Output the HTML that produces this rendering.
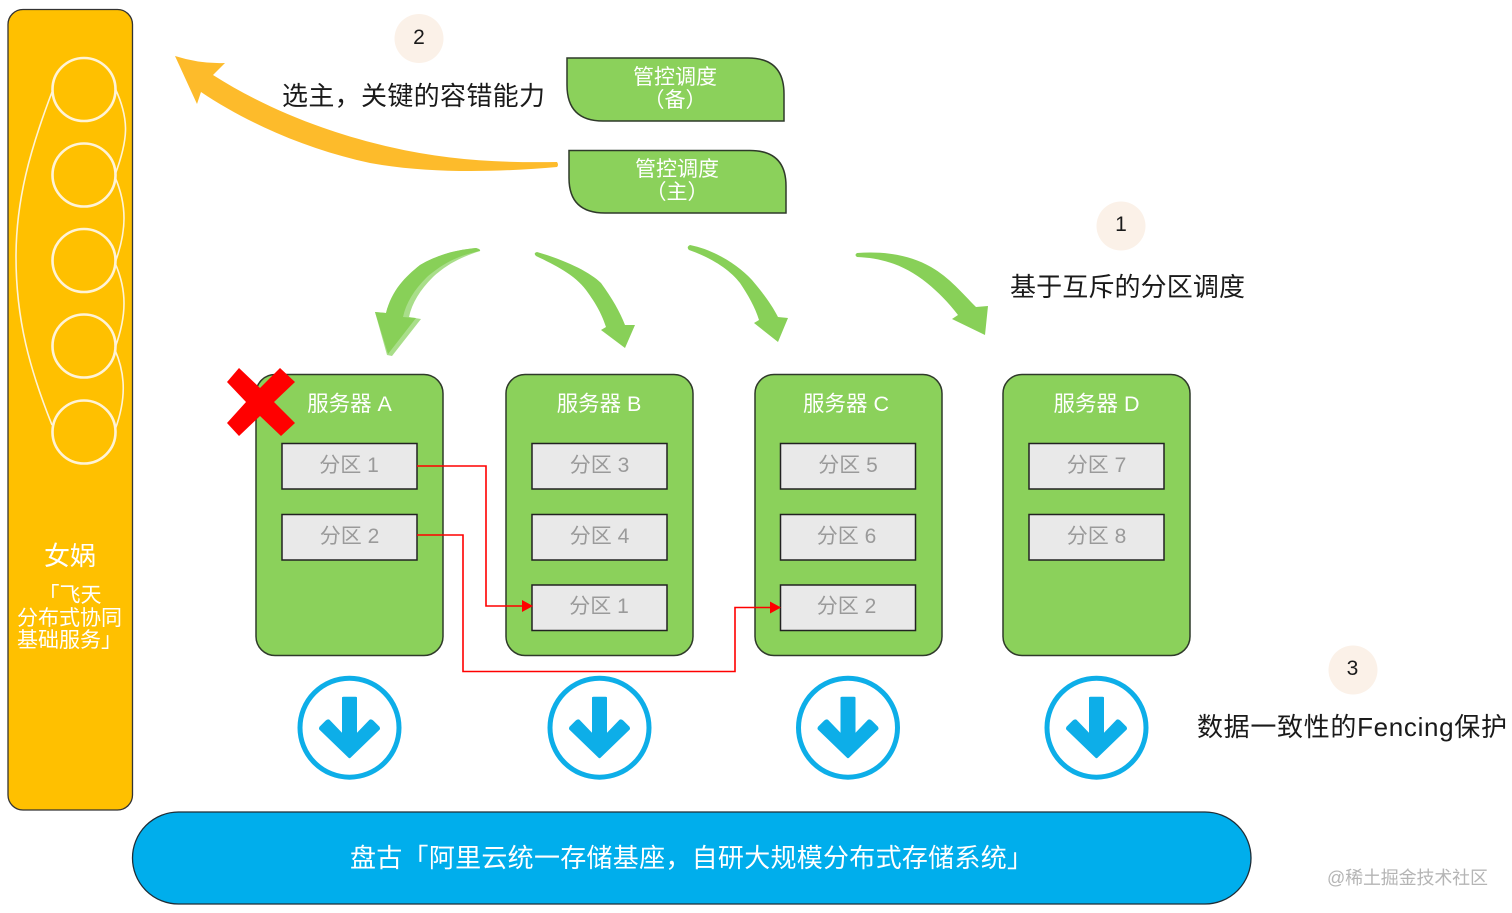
<!DOCTYPE html>
<html><head><meta charset="utf-8">
<style>
html,body{margin:0;padding:0;background:#fff;width:1512px;height:913px;overflow:hidden}
svg{display:block}
text{font-family:"Liberation Sans","Noto Sans CJK SC",sans-serif}
.w{fill:#fff}.k{fill:#1a1a1a}.g{fill:#9a9a9a;font-size:21px;text-anchor:middle}
.sv{fill:#8BD15B;stroke:#2f3a2a;stroke-width:1.5}
.pt{fill:#E9E9E9;stroke:#222;stroke-width:1.5}
.srv{fill:#fff;font-size:21.5px;text-anchor:middle}
.ct{fill:#fff;font-size:21px;text-anchor:middle}
.cir{fill:none;stroke:#FFF3D6;stroke-width:2.6}
.ln{fill:none;stroke:#FFF3D6;stroke-width:1.6}
.red{fill:none;stroke:#F00;stroke-width:1.6}
.ga{fill:#88D058}
.num{fill:#1a1a1a;font-size:21px;text-anchor:middle}
</style></head><body>
<svg width="1512" height="913" viewBox="0 0 1512 913" xmlns="http://www.w3.org/2000/svg">
<rect width="1512" height="913" fill="#fff"/>

<!-- left panel -->
<rect x="8" y="9.500" width="124.500" height="800.500" rx="15" fill="#FFC000" stroke="#333" stroke-width="1.300"/>
<circle class="cir" cx="84" cy="89.500" r="31.500"/>
<circle class="cir" cx="84" cy="175" r="31.500"/>
<circle class="cir" cx="84" cy="260.500" r="31.500"/>
<circle class="cir" cx="84" cy="346" r="31.500"/>
<circle class="cir" cx="84" cy="432" r="31.500"/>
<path class="ln" d="M52 92C30 150 16 200 16 257C16 320 30 370 52 425"/>
<path class="ln" d="M115 88C130 120 128 140 115 175"/>
<path class="ln" d="M115 177C127 205 127 230 115 263"/>
<path class="ln" d="M115 263C127 290 127 315 115 348"/>
<path class="ln" d="M115 350C126 375 126 400 115 430"/>
<text class="w" x="70" y="565" font-size="26" text-anchor="middle">女娲</text>
<text class="w" x="70" y="602" font-size="21" text-anchor="middle">「飞天</text>
<text class="w" x="69.500" y="625" font-size="21" text-anchor="middle" textLength="105" lengthAdjust="spacingAndGlyphs">分布式协同</text>
<text class="w" x="69.500" y="647" font-size="21" text-anchor="middle">基础服务」</text>

<!-- yellow arrow -->
<path fill="#FDBB2B" d="M557 162C500 163 445 160 390 147C320 131 260 105 213 75L225 63Q200 64 175 56Q186 80 197 104L201 92C250 125 310 150 370 163C430 174 500 172 557 167Q559 165 557 162Z"/>

<!-- number badges -->
<ellipse cx="419" cy="38.500" rx="24.500" ry="24.500" fill="#FBF1E8"/>
<text class="num" x="419" y="44">2</text>
<ellipse cx="1121" cy="226" rx="24.500" ry="24.500" fill="#FBF1E8"/>
<text class="num" x="1121" y="231">1</text>
<ellipse cx="1353" cy="670" rx="24.500" ry="24.500" fill="#FBF1E8"/>
<text class="num" x="1352.500" y="675">3</text>

<!-- labels -->
<text class="k" x="282" y="105" font-size="26" textLength="263">选主，关键的容错能力</text>
<text class="k" x="1010" y="296" font-size="26" textLength="235">基于互斥的分区调度</text>
<text class="k" x="1197" y="736" font-size="26" textLength="310">数据一致性的Fencing保护</text>

<!-- control boxes -->
<path class="sv" d="M567 58H748Q784 58 784 94V121H603Q567 121 567 85Z"/>
<text class="ct" x="675" y="84">管控调度</text>
<text class="ct" x="675" y="107">（备）</text>
<path class="sv" d="M569 150.500H750Q786 150.500 786 186V213H605Q569 213 569 178Z"/>
<text class="ct" x="677" y="176">管控调度</text>
<text class="ct" x="677" y="199">（主）</text>

<!-- green curved arrows -->
<path fill="#A9DE8A" d="M476 248Q481 249 480 251C455 259 443 268 433 277C420 290 412 303 409 317L421 319L392 356L387 355L375 312L386 313C392 290 405 277 420 265C437 255 455 250 476 248Z"/>
<path class="ga" d="M476 248Q480 249 480 251C455 256 440 266 427 277C414 290 406 303 403 317L416 318L388 354L375 312L386 313C392 290 405 277 420 265C437 255 455 250 476 248Z"/>
<path class="ga" d="M537 252C565 260 590 272 601 283C612 298 620 312 625 325L635 325L625 348L601 330L606 327C602 315 597 305 586 290C575 275 555 265 536 256Q533 253 537 252Z"/>
<path class="ga" d="M690 245C715 250 738 265 752 280C763 293 772 305 778 317L788 318L778 342L754 323L759 320C755 307 748 295 740 283C730 270 712 258 689 250Q686 247 690 245Z"/>
<path class="ga" d="M857 253C885 251 910 255 931 267C950 278 962 293 976 307L988 306L985 335L952 319L958 315C948 302 938 292 927 283C905 265 882 258 857 257Q854 255 857 253Z"/>

<!-- servers -->
<rect class="sv" x="256" y="374.500" width="187" height="281" rx="19"/>
<rect class="sv" x="506" y="374.500" width="187" height="281" rx="19"/>
<rect class="sv" x="755" y="374.500" width="187" height="281" rx="19"/>
<rect class="sv" x="1003" y="374.500" width="187" height="281" rx="19"/>

<text class="srv" x="349.500" y="411">服务器 A</text>
<text class="srv" x="599" y="411">服务器 B</text>
<text class="srv" x="846" y="411">服务器 C</text>
<text class="srv" x="1096.500" y="411">服务器 D</text>

<rect class="pt" x="282" y="443.500" width="135" height="45.500"/>
<rect class="pt" x="282" y="514.500" width="135" height="45.500"/>
<rect class="pt" x="532" y="443.500" width="135" height="45.500"/>
<rect class="pt" x="532" y="514.500" width="135" height="45.500"/>
<rect class="pt" x="532" y="585" width="135" height="45.500"/>
<rect class="pt" x="780.500" y="443.500" width="135" height="45.500"/>
<rect class="pt" x="780.500" y="514.500" width="135" height="45.500"/>
<rect class="pt" x="780.500" y="585" width="135" height="45.500"/>
<rect class="pt" x="1029" y="443.500" width="135" height="45.500"/>
<rect class="pt" x="1029" y="514.500" width="135" height="45.500"/>

<text class="g" x="349" y="472">分区 1</text>
<text class="g" x="349.500" y="543">分区 2</text>
<text class="g" x="599.500" y="472">分区 3</text>
<text class="g" x="599.500" y="543">分区 4</text>
<text class="g" x="599" y="613">分区 1</text>
<text class="g" x="848" y="472">分区 5</text>
<text class="g" x="846.500" y="543">分区 6</text>
<text class="g" x="846.500" y="613">分区 2</text>
<text class="g" x="1096.500" y="472">分区 7</text>
<text class="g" x="1096.500" y="543">分区 8</text>

<!-- red connectors -->
<path class="red" d="M417 466H486V606H522"/>
<path fill="#F00" d="M522 600L533 606L522 612Z"/>
<path class="red" d="M417 535H463V671.500H735V607.500H771"/>
<path fill="#F00" d="M770 601.500L781 607.500L770 613.500Z"/>

<!-- red cross -->
<path fill="#F00" d="M239 368L260 388L280 368L295 382L274 402L295 423L281 436L260 416L239 436L227 423L246 402L227 382Z"/>

<!-- down arrows -->
<g transform="translate(349.500 727.700)">
<circle r="49.500" fill="#fff" stroke="#0DAEE8" stroke-width="5"/>
<path fill="#0DAEE8" d="M-7.500 -30Q-7.500 -31 -6 -31H6Q7.500 -31 7.500 -30V5L20 -8Q22 -9 24 -7L30 -1Q31 1 30 2L1 30Q0 31 -1 30L-30 2Q-31 1 -30 -1L-24 -7Q-22 -9 -20 -8L-7.500 5Z"/>
</g>
<g transform="translate(599.500 727.700)">
<circle r="49.500" fill="#fff" stroke="#0DAEE8" stroke-width="5"/>
<path fill="#0DAEE8" d="M-7.500 -30Q-7.500 -31 -6 -31H6Q7.500 -31 7.500 -30V5L20 -8Q22 -9 24 -7L30 -1Q31 1 30 2L1 30Q0 31 -1 30L-30 2Q-31 1 -30 -1L-24 -7Q-22 -9 -20 -8L-7.500 5Z"/>
</g>
<g transform="translate(848 727.700)">
<circle r="49.500" fill="#fff" stroke="#0DAEE8" stroke-width="5"/>
<path fill="#0DAEE8" d="M-7.500 -30Q-7.500 -31 -6 -31H6Q7.500 -31 7.500 -30V5L20 -8Q22 -9 24 -7L30 -1Q31 1 30 2L1 30Q0 31 -1 30L-30 2Q-31 1 -30 -1L-24 -7Q-22 -9 -20 -8L-7.500 5Z"/>
</g>
<g transform="translate(1096.500 727.700)">
<circle r="49.500" fill="#fff" stroke="#0DAEE8" stroke-width="5"/>
<path fill="#0DAEE8" d="M-7.500 -30Q-7.500 -31 -6 -31H6Q7.500 -31 7.500 -30V5L20 -8Q22 -9 24 -7L30 -1Q31 1 30 2L1 30Q0 31 -1 30L-30 2Q-31 1 -30 -1L-24 -7Q-22 -9 -20 -8L-7.500 5Z"/>
</g>

<!-- bottom bar -->
<rect x="132.500" y="812" width="1118.500" height="92" rx="46" fill="#00AEEC" stroke="#1f2d36" stroke-width="1.300"/>
<text class="w" x="350" y="867" font-size="26" textLength="683">盘古「阿里云统一存储基座，自研大规模分布式存储系统」</text>

<!-- watermark -->
<text x="1327" y="884" font-size="18" fill="#b5b5b5" textLength="161">@稀土掘金技术社区</text>
</svg>
</body></html>
